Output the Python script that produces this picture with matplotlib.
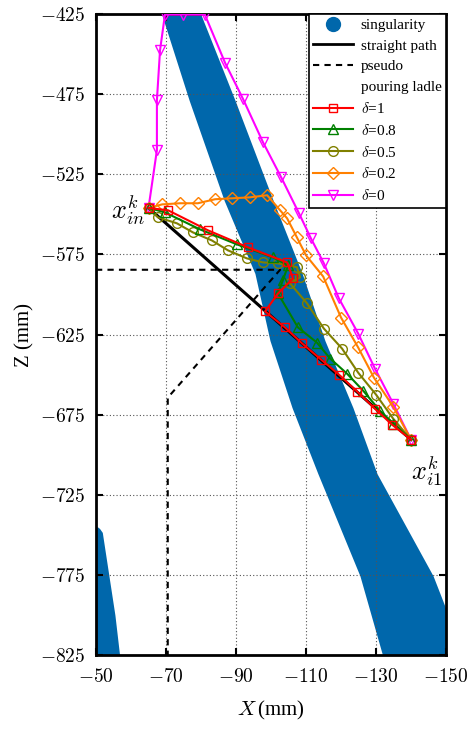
import matplotlib
matplotlib.use("Agg")
import matplotlib.pyplot as plt
from matplotlib.lines import Line2D

# ===================== #
#         Data          #
# ===================== #

# singularity band (edges)
band_z = [-420, -478.8, -541.3, -586.9, -628.8, -670.6, -711.9, -775.6, -830]
band_left = [-68.0, -76.6, -86.6, -95.4, -99.7, -106.0, -113.4, -125.4, -132.5]
band_right = [-79.0, -89.7, -100.6, -108.9, -115.4, -123.4, -130.3, -146.3, -156.0]

blob_z = [-745, -746, -748.5, -760, -780, -800, -830]
blob_x = [-50.4, -51.0, -51.8, -52.6, -54.0, -55.4, -57.0]

straight_x = [-65, -140]
straight_z = [-546, -690.6]

pseudo_x = [-50, -102.6, -70.5, -70.5]
pseudo_z = [-584.6, -584.6, -664.4, -830]

d1_x = [-65, -70.6, -82.0, -93.4, -104.6, -106.3, -102.0, -98.3, -104.0, -108.9, -114.3, -119.4, -124.6, -129.7, -134.6, -140]
d1_z = [-546, -547.5, -560.0, -570.6, -580.0, -590.0, -599.4, -610.6, -620.6, -630.6, -640.6, -650.0, -660.6, -671.3, -681.3, -690.6]

d08_x = [-65, -69.7, -79.7, -90.3, -100.6, -104.9, -103.4, -102.0, -107.7, -113.1, -116.9, -121.7, -126.3, -131.1, -134.9, -140]
d08_z = [-546, -548.8, -559.4, -568.8, -576.9, -581.9, -591.0, -599.4, -620.6, -630.0, -640.0, -649.4, -660.0, -672.5, -680.6, -690.6]

d05_x = [-65, -67.7, -73.1, -77.7, -83.1, -87.7, -93.1, -97.7, -102.0, -107.4, -108.3, -105.4, -110.3, -115.1, -120.3, -124.9, -130.0, -134.9, -140]
d05_z = [-546, -551.9, -555.6, -561.3, -566.3, -572.5, -577.5, -580.0, -580.6, -583.0, -589.4, -593.0, -605.6, -621.3, -633.8, -648.8, -662.5, -677.5, -690.6]

d02_x = [-65, -68.9, -74.0, -79.1, -84.0, -88.9, -94.0, -98.9, -102.6, -104.6, -107.3, -110.0, -114.9, -120.0, -124.9, -129.4, -134.9, -140]
d02_z = [-546, -543.8, -543.1, -543.1, -540.6, -540.0, -539.4, -538.1, -547.5, -552.5, -564.0, -575.6, -588.8, -614.4, -633.1, -651.9, -670.0, -690.6]

d0_x = [-65, -67.4, -67.4, -68.3, -69.7, -74.9, -81.1, -86.9, -92.0, -97.7, -102.9, -108.0, -111.4, -115.1, -119.4, -124.9, -129.7, -134.9, -140]
d0_z = [-546, -510.0, -478.8, -447.5, -425.4, -425.4, -425.4, -455.6, -478.0, -505.0, -526.9, -549.4, -565.0, -580.6, -602.5, -624.4, -646.3, -668.1, -690.6]

xticks = [-50, -70, -90, -110, -130, -150]
yticks = [-425, -475, -525, -575, -625, -675, -725, -775, -825]

# ===================== #
#         Plot          #
# ===================== #

plt.rcParams['mathtext.fontset'] = 'cm'
plt.rcParams['font.family'] = ['Liberation Serif', 'DejaVu Serif']

blue = '#0067AB'

fig = plt.figure(figsize=(4.69, 7.29), dpi=100)
ax = fig.add_axes([0.2047, 0.1015, 0.7463, 0.8793])

ax.fill_betweenx(band_z, band_left, band_right, color=blue, lw=0, zorder=1)
ax.fill_betweenx(blob_z, -50, blob_x, color=blue, lw=0, zorder=1)

ax.plot(straight_x, straight_z, color='black', lw=2.2, zorder=2)
ax.plot(pseudo_x, pseudo_z, color='black', lw=1.5, ls=(0, (3, 2.5)), zorder=2)

mk = dict(mfc='none', ms=7, mew=1, lw=1.5, zorder=3)
ax.plot(d0_x, d0_z, color='#FF00FF', marker='v', **mk)
ax.plot(d02_x, d02_z, color='#FF8000', marker='D', **dict(mk, ms=6))
ax.plot(d05_x, d05_z, color='#808000', marker='o', **mk)
ax.plot(d08_x, d08_z, color='#008000', marker='^', **mk)
ax.plot(d1_x, d1_z, color='#FF0000', marker='s', **dict(mk, ms=6))

ax.text(-64, -547, r'$x_{in}^{k}$', fontsize=19, ha='right', va='center')
ax.text(-140, -699, r'$x_{i1}^{k}$', fontsize=19, ha='left', va='top')

ax.set_xlim(-50, -150)
ax.set_ylim(-825, -425)
ax.set_xticks(xticks)
ax.set_yticks(yticks)
ax.set_xticklabels(['$%d$' % t for t in xticks], fontsize=14)
ax.set_yticklabels(['$%d$' % t for t in yticks], fontsize=14)
ax.tick_params(direction='in', top=True, right=True, length=5, width=1.5)
ax.tick_params(axis='x', pad=9)
ax.tick_params(axis='y', pad=8)
for s in ax.spines.values():
    s.set_linewidth(2)
ax.grid(True, color='#555555', ls=(0, (1, 2)), lw=0.8)

ax.set_xlabel(r'$X\,$(mm)', fontsize=15, labelpad=10)
ax.set_ylabel(r'Z (mm)', fontsize=15, labelpad=4)

handles = [
    Line2D([], [], ls='none', marker='o', color=blue, ms=10),
    Line2D([], [], color='black', lw=2),
    Line2D([], [], color='black', lw=1.5, ls=(0, (3, 2.5))),
    Line2D([], [], ls='none'),
    Line2D([], [], color='#FF0000', marker='s', mfc='none', ms=6, lw=1.5),
    Line2D([], [], color='#008000', marker='^', mfc='none', ms=7, lw=1.5),
    Line2D([], [], color='#808000', marker='o', mfc='none', ms=7, lw=1.5),
    Line2D([], [], color='#FF8000', marker='D', mfc='none', ms=6, lw=1.5),
    Line2D([], [], color='#FF00FF', marker='v', mfc='none', ms=7, lw=1.5),
]
labels = ['singularity', 'straight path', 'pseudo', 'pouring ladle',
          r'$\delta$=1', r'$\delta$=0.8', r'$\delta$=0.5', r'$\delta$=0.2', r'$\delta$=0']
leg = ax.legend(handles, labels, loc='upper right', borderaxespad=0, fontsize=11,
                fancybox=False, framealpha=1, edgecolor='black', handlelength=2.6,
                handletextpad=0.5, labelspacing=0.45, borderpad=0.3)
leg.get_frame().set_linewidth(1.2)

fig.savefig('out.png', dpi=100)
